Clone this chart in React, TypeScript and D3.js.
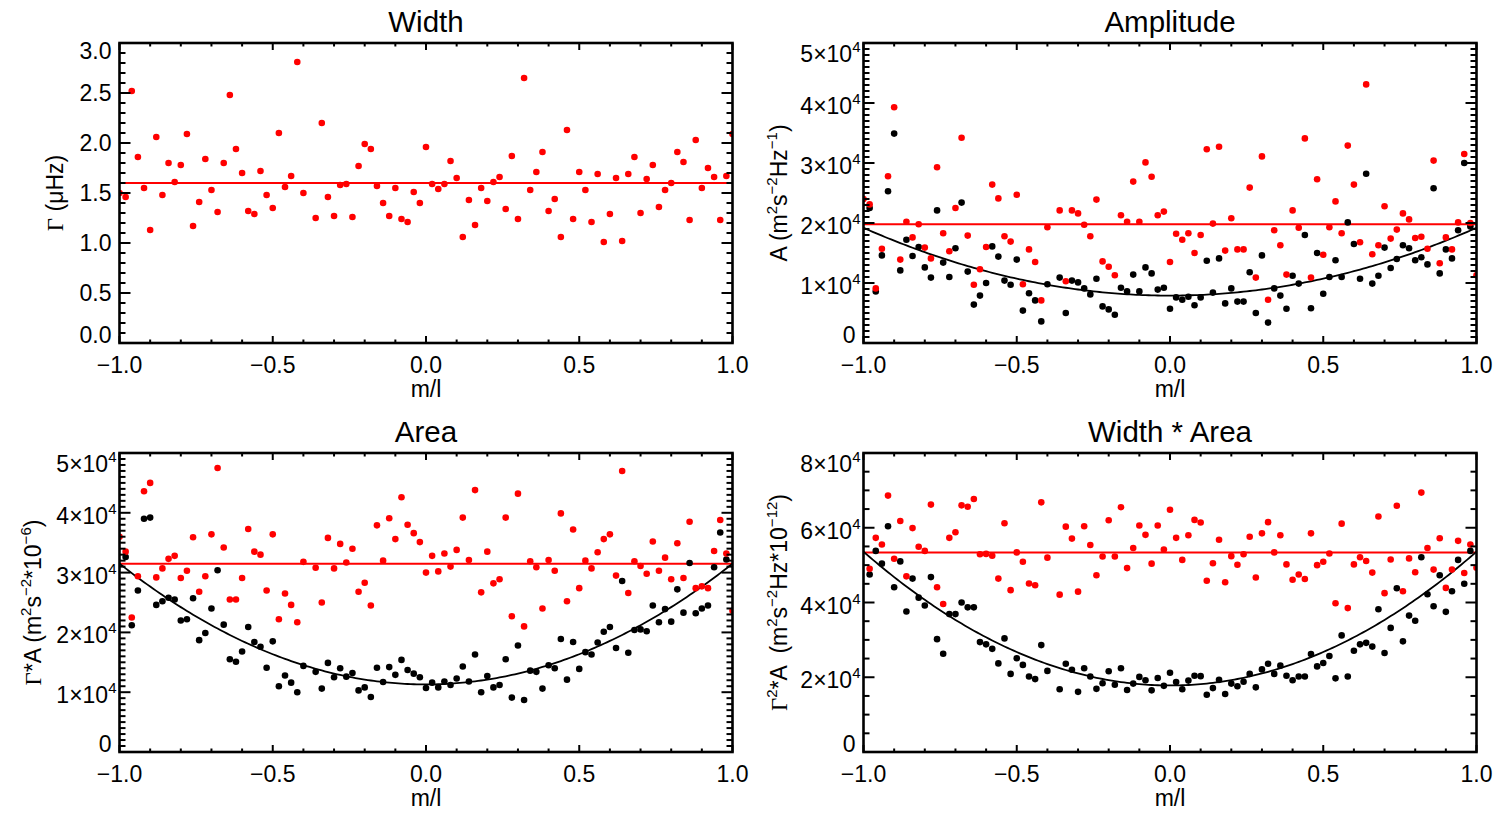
import React from 'react';
import * as d3 from 'd3';

// ---------- data ----------
const L_DEGREE = 50;
const M_VALUES = d3.range(-L_DEGREE, L_DEGREE + 1);
const ML = M_VALUES.map((m) => m / L_DEGREE);

const X_TICKS = [-1.0, -0.5, 0.0, 0.5, 1.0];
const X_TICK_LABELS = ['\u22121.0', '\u22120.5', '0.0', '0.5', '1.0'];

// Width (µHz)
const WIDTH_RED = [
  1.50, 1.46, 2.52, 1.86, 1.55, 1.13, 2.06, 1.48, 1.80, 1.61,
  1.78, 2.09, 1.17, 1.41, 1.84, 1.53, 1.31, 1.80, 2.48, 1.94,
  1.70, 1.32, 1.29, 1.72, 1.48, 1.35, 2.10, 1.56, 1.67, 2.81,
  1.50, null, 1.25, 2.20, 1.46, 1.27, 1.58, 1.59, 1.26, 1.77,
  1.99, 1.94, 1.57, 1.40, 1.27, 1.55, 1.24, 1.21, 1.51, 1.40,
  1.96, 1.59, 1.54, 1.59, 1.82, 1.65, 1.06, 1.43, 1.18, 1.55,
  1.42, 1.61, 1.66, 1.34, 1.87, 1.24, 2.65, 1.53, 1.71, 1.91,
  1.32, 1.44, 1.06, 2.13, 1.24, 1.71, 1.53, 1.21, 1.69, 1.01,
  1.29, 1.65, 1.02, 1.69, 1.86, 1.30, 1.64, 1.78, 1.36, 1.53,
  1.60, 1.91, 1.81, 1.23, 2.03, 1.55, 1.75, 1.66, 1.23, 1.67,
  2.09,
];
const WIDTH_MEAN = 1.60;

// Amplitude (units of 1e4)
const AMP_RED = [
  2.40, 2.31, 0.91, 1.57, 2.78, 3.93, 1.39, 2.02, 1.76, 1.98,
  1.59, 1.41, 2.93, 1.83, 1.53, 2.25, 3.42, 1.79, 0.97, 1.23,
  1.60, 2.64, 2.41, 1.78, 1.69, 2.47, 0.98, 1.56, 1.35, 0.71,
  1.93, null, 2.21, 1.03, 2.21, 2.16, 1.97, 1.78, 2.39, 1.36,
  1.27, 1.13, 2.13, 2.02, 2.69, 2.02, 3.01, 2.77, 2.13, 2.19,
  1.35, 1.82, 1.72, 1.83, 1.50, 1.80, 3.23, 1.99, 3.27, 1.54,
  2.08, 1.56, 1.56, 2.59, 1.09, 3.11, 0.72, 1.88, 1.63, 1.14,
  2.21, 1.92, 3.41, 1.09, 2.73, 1.47, 1.93, 2.36, 1.83, 3.29,
  2.64, 1.68, 4.31, 1.48, 1.63, 2.28, 1.74, 1.89, 2.16, 2.06,
  1.75, 1.77, 1.57, 3.04, 1.33, 1.76, 1.56, 2.01, 3.15, 2.00,
  1.13,
];
const AMP_BLACK = [
  null, 2.25, 0.86, 1.46, 2.53, 3.49, 1.21, 1.72, 1.45, 1.60,
  1.26, 1.09, 2.21, 1.34, 1.10, 1.58, 2.34, 1.19, 0.64, 0.79,
  1.00, 1.61, 1.44, 1.04, 0.97, 1.39, 0.54, 0.83, 0.71, 0.36,
  0.98, null, 1.09, 0.50, 1.04, 1.01, 0.91, 0.81, 1.07, 0.61,
  0.56, 0.47, 0.92, 0.86, 1.14, 0.86, 1.26, 1.16, 0.89, 0.92,
  0.57, 0.76, 0.72, 0.77, 0.63, 0.76, 1.37, 0.84, 1.41, 0.66,
  0.91, 0.69, 0.69, 1.18, 0.50, 1.46, 0.34, 0.91, 0.79, 0.57,
  1.12, 0.99, 1.80, 0.58, 1.50, 0.82, 1.10, 1.38, 1.10, 2.01,
  1.65, 1.07, 2.82, 0.99, 1.12, 1.59, 1.25, 1.40, 1.63, 1.58,
  1.38, 1.43, 1.31, 2.58, 1.16, 1.56, 1.41, 1.88, 3.00, 1.94,
  null,
];
const AMP_MEAN = 1.98;
const AMP_FIT = [0.79, 1.13]; // a + b x^2

// Area (units of 1e4)
const AREA_RED = [
  3.60, 3.35, 2.25, 2.94, 4.36, 4.50, 2.92, 3.07, 3.23, 3.28,
  2.91, 3.03, 3.59, 2.68, 2.94, 3.64, 4.75, 3.42, 2.55, 2.55,
  2.91, 3.73, 3.35, 3.30, 2.70, 3.64, 2.22, 2.65, 2.46, 2.17,
  3.18, null, 3.08, 2.50, 3.58, 3.07, 3.48, 3.17, 3.40, 2.68,
  2.83, 2.45, 3.79, 3.20, 3.91, 3.56, 4.26, 3.80, 3.66, 3.51,
  3.00, 3.28, 3.02, 3.32, 3.10, 3.38, 3.92, 3.21, 4.38, 2.67,
  3.35, 2.82, 2.89, 3.92, 2.27, 4.32, 2.10, 3.19, 3.09, 2.40,
  3.21, 3.03, 3.99, 2.52, 3.72, 2.74, 3.20, 3.07, 3.34, 3.56,
  3.64, 2.95, 4.70, 2.66, 3.19, 3.11, 2.98, 3.52, 3.03, 3.25,
  2.89, 3.49, 2.91, 3.85, 2.74, 2.77, 2.74, 3.36, 3.88, 3.32,
  2.36,
];
const AREA_BLACK = [
  null, 3.26, 2.12, 2.70, 3.90, 3.92, 2.46, 2.52, 2.58, 2.55,
  2.20, 2.22, 2.57, 1.87, 1.99, 2.40, 3.04, 2.13, 1.55, 1.51,
  1.68, 2.09, 1.84, 1.76, 1.41, 1.85, 1.10, 1.28, 1.16, 1.00,
  1.44, null, 1.34, 1.06, 1.49, 1.25, 1.40, 1.26, 1.32, 1.03,
  1.08, 0.92, 1.41, 1.17, 1.42, 1.29, 1.54, 1.37, 1.31, 1.25,
  1.07, 1.16, 1.08, 1.18, 1.12, 1.23, 1.43, 1.18, 1.63, 1.00,
  1.27, 1.08, 1.12, 1.55, 0.91, 1.78, 0.87, 1.36, 1.34, 1.06,
  1.45, 1.40, 1.89, 1.21, 1.84, 1.39, 1.67, 1.63, 1.83, 2.01,
  2.09, 1.74, 2.86, 1.66, 2.04, 2.05, 2.02, 2.45, 2.17, 2.39,
  2.18, 2.72, 2.33, 3.16, 2.32, 2.40, 2.45, 3.09, 3.67, 3.22,
  null,
];
const AREA_MEAN = 3.15;
const AREA_FIT = [1.13, 2.02];

// Width * Area (units of 1e4)
const WA_RED = [
  null, 4.90, 5.73, 5.55, 6.86, 5.17, 6.18, 4.70, 5.99, 5.49,
  5.38, 6.62, 4.41, 3.96, 5.73, 5.88, 6.60, 6.56, 6.77, 5.29,
  5.30, 5.25, 4.64, 6.12, 4.33, 5.34, 5.09, 4.51, 4.46, 6.68,
  5.20, null, 4.21, 6.03, 5.71, 4.29, 6.04, 5.54, 4.73, 5.23,
  6.20, 5.23, 6.55, 4.92, 5.46, 6.06, 5.81, 5.04, 6.06, 5.42,
  6.48, 5.73, 5.14, 5.80, 6.21, 6.14, 4.58, 5.05, 5.68, 4.54,
  5.24, 5.01, 5.29, 5.76, 4.67, 5.85, 6.15, 5.34, 5.80, 5.02,
  4.61, 4.75, 4.63, 5.85, 5.00, 5.09, 5.31, 3.98, 6.11, 3.85,
  5.02, 5.21, 5.11, 4.80, 6.30, 4.25, 5.15, 6.59, 4.30, 5.18,
  4.81, 6.94, 5.46, 4.88, 5.72, 4.39, 4.88, 5.65, 4.79, 5.55,
  4.93,
];
const WA_BLACK = [
  null, 4.75, 5.38, 5.04, 6.04, 4.41, 5.10, 3.76, 4.64, 4.13,
  3.92, 4.68, 3.02, 2.63, 3.69, 3.69, 4.00, 3.87, 3.87, 2.94,
  2.88, 2.76, 2.37, 3.04, 2.09, 2.51, 2.33, 2.02, 1.95, 2.86,
  2.17, null, 1.68, 2.36, 2.20, 1.61, 2.24, 2.02, 1.69, 1.84,
  2.16, 1.80, 2.24, 1.66, 1.83, 2.01, 1.92, 1.65, 1.98, 1.77,
  2.12, 1.87, 1.68, 1.91, 2.04, 2.03, 1.53, 1.71, 1.93, 1.55,
  1.83, 1.76, 1.88, 2.09, 1.73, 2.21, 2.36, 2.09, 2.31, 2.04,
  1.92, 2.02, 2.02, 2.62, 2.29, 2.38, 2.57, 1.97, 3.12, 2.02,
  2.71, 2.88, 2.92, 2.82, 3.82, 2.65, 3.32, 4.38, 2.96, 3.65,
  3.51, 5.21, 4.22, 3.90, 4.73, 3.75, 4.30, 5.14, 4.50, 5.38,
  null,
];
const WA_MEAN = 5.34;
const WA_FIT = [1.78, 3.58];

// ---------- styling ----------
const FONT = '"Liberation Sans", Arial, Helvetica, sans-serif';
const SERIF = '"Liberation Serif", "Times New Roman", serif';
const RED = '#ff0000';
const BLACK = '#000000';
const TICK_FS = 23;
const TITLE_FS = 29.5;
const SUP_FS = 15;
const SUP_RISE = 10;

type Seg = { t: string; sup?: boolean; serif?: boolean };

function Rich({ segs }: { segs: Seg[] }) {
  let cur = 0;
  return (
    <>
      {segs.map((s, k) => {
        const target = s.sup ? -SUP_RISE : 0;
        const dy = target - cur;
        cur = target;
        return (
          <tspan
            key={k}
            dy={dy !== 0 ? dy : undefined}
            fontSize={s.sup ? SUP_FS : undefined}
            fontFamily={s.serif ? SERIF : undefined}
          >
            {s.t}
          </tspan>
        );
      })}
    </>
  );
}

type Cfg = {
  key: string;
  title: string;
  yLabel: Seg[];
  yMax: number;
  major: number;
  minor: number;
  exp: boolean;
  red: (number | null)[];
  black?: (number | null)[];
  mean: number;
  fit?: number[];
  yLabelOffset: number;
};

const PANELS: Cfg[] = [
  {
    key: 'width', title: 'Width',
    yLabel: [{ t: '\u0393', serif: true }, { t: ' (\u03bcHz)' }],
    yMax: 3, major: 0.5, minor: 0.1, exp: false,
    red: WIDTH_RED, mean: WIDTH_MEAN, yLabelOffset: 57,
  },
  {
    key: 'amp', title: 'Amplitude',
    yLabel: [{ t: 'A (m' }, { t: '2', sup: true }, { t: 's' }, { t: '\u22122', sup: true }, { t: 'Hz' }, { t: '\u22121', sup: true }, { t: ')' }],
    yMax: 5, major: 1, minor: 0.1, exp: true,
    red: AMP_RED, black: AMP_BLACK, mean: AMP_MEAN, fit: AMP_FIT, yLabelOffset: 77,
  },
  {
    key: 'area', title: 'Area',
    yLabel: [{ t: '\u0393', serif: true }, { t: '*A (m' }, { t: '2', sup: true }, { t: 's' }, { t: '\u22122', sup: true }, { t: '*10' }, { t: '\u22126', sup: true }, { t: ')' }],
    yMax: 5, major: 1, minor: 0.1, exp: true,
    red: AREA_RED, black: AREA_BLACK, mean: AREA_MEAN, fit: AREA_FIT, yLabelOffset: 79,
  },
  {
    key: 'wa', title: 'Width * Area',
    yLabel: [{ t: '\u0393', serif: true }, { t: '2', sup: true }, { t: '*A  (m' }, { t: '2', sup: true }, { t: 's' }, { t: '\u22122', sup: true }, { t: 'Hz*10' }, { t: '\u221212', sup: true }, { t: ')' }],
    yMax: 8, major: 2, minor: 0.5, exp: true,
    red: WA_RED, black: WA_BLACK, mean: WA_MEAN, fit: WA_FIT, yLabelOffset: 77,
  },
];

const LAYOUT = [
  { x: 119.5, y: 43, w: 613, h: 300 },
  { x: 863.5, y: 43, w: 613, h: 300 },
  { x: 119.5, y: 453, w: 613, h: 299 },
  { x: 863.5, y: 453, w: 613, h: 299 },
];

function Panel({ cfg, box }: { cfg: Cfg; box: { x: number; y: number; w: number; h: number } }) {
  const { x: x0, y: y0, w, h } = box;
  const xs = d3.scaleLinear().domain([-1, 1]).range([x0, x0 + w]);
  const ys = d3.scaleLinear().domain([0, cfg.yMax]).range([y0 + h, y0]);
  const clipId = `clip-${cfg.key}`;

  const pts = (arr: (number | null)[]) =>
    ML.map((m, i) => ({ m, v: arr[i] })).filter((d) => d.v !== null && d.v !== undefined) as { m: number; v: number }[];

  const fitLine = cfg.fit
    ? d3.line<number>().x((m) => xs(m)).y((m) => ys(cfg.fit![0] + cfg.fit![1] * m * m))(d3.range(-100, 101).map((k) => k / 100))
    : null;

  // ticks
  const xMinorTicks = d3.range(-10, 11).map((k) => k / 10);
  const nY = Math.round(cfg.yMax / cfg.minor);
  const perMajor = Math.round(cfg.major / cfg.minor);
  const yTicks = d3.range(0, nY + 1).map((k) => ({ v: k * cfg.minor, major: k % perMajor === 0 }));
  const yMajorTicks = yTicks.filter((t) => t.major).map((t) => t.v);

  const XMAJ = 7, XMIN = 3.5, YMAJ = 11, YMIN = 6;

  return (
    <g>
      <defs>
        <clipPath id={clipId}>
          <rect x={x0} y={y0} width={w} height={h} />
        </clipPath>
      </defs>
      <g clipPath={`url(#${clipId})`}>
        <line x1={xs(-1)} x2={xs(1)} y1={ys(cfg.mean)} y2={ys(cfg.mean)} stroke={RED} strokeWidth={2} />
        {fitLine && <path d={fitLine} fill="none" stroke={BLACK} strokeWidth={1.8} />}
        {cfg.black && pts(cfg.black).map((d, i) => <circle key={`b${i}`} cx={xs(d.m)} cy={ys(d.v)} r={3.3} fill={BLACK} />)}
        {pts(cfg.red).map((d, i) => <circle key={`r${i}`} cx={xs(d.m)} cy={ys(d.v)} r={3.3} fill={RED} />)}
      </g>

      {/* x ticks (bottom and top, inward) */}
      {xMinorTicks.map((t, i) => {
        const isMaj = X_TICKS.some((m) => Math.abs(m - t) < 1e-9);
        const len = isMaj ? XMAJ : XMIN;
        const x = xs(t);
        return (
          <g key={`xt${i}`} stroke={BLACK} strokeWidth={2}>
            <line x1={x} x2={x} y1={y0 + h} y2={y0 + h - len} />
            <line x1={x} x2={x} y1={y0} y2={y0 + len} />
          </g>
        );
      })}
      {/* y ticks (left and right, inward) */}
      {yTicks.map((t, i) => {
        const len = t.major ? YMAJ : YMIN;
        const y = ys(t.v);
        return (
          <g key={`yt${i}`} stroke={BLACK} strokeWidth={2}>
            <line x1={x0} x2={x0 + len} y1={y} y2={y} />
            <line x1={x0 + w} x2={x0 + w - len} y1={y} y2={y} />
          </g>
        );
      })}
      <rect x={x0} y={y0} width={w} height={h} fill="none" stroke={BLACK} strokeWidth={2.6} />

      {/* x tick labels */}
      {X_TICKS.map((t, i) => (
        <text key={`xl${i}`} x={xs(t)} y={y0 + h + 30} textAnchor="middle" fontSize={TICK_FS} fontFamily={FONT} fill={BLACK}>
          {X_TICK_LABELS[i]}
        </text>
      ))}
      <text x={x0 + w / 2} y={y0 + h + 54} textAnchor="middle" fontSize={TICK_FS} fontFamily={FONT} fill={BLACK}>
        m/l
      </text>

      {/* y tick labels */}
      {yMajorTicks.map((v, i) => {
        const y = ys(v);
        const isExp = cfg.exp && v !== 0;
        const base = isExp
          ? Math.min(Math.max(y + 11, y0 + 19), y0 + h)
          : Math.min(Math.max(y + 8, y0 + 16), y0 + h);
        const segs: Seg[] = isExp
          ? [{ t: `${v}\u00d710` }, { t: '4', sup: true }]
          : [{ t: cfg.exp ? '0' : v.toFixed(1) }];
        return (
          <text key={`yl${i}`} x={x0 - (isExp ? 3 : 8)} y={base} textAnchor="end" fontSize={TICK_FS} fontFamily={FONT} fill={BLACK}>
            <Rich segs={segs} />
          </text>
        );
      })}

      {/* y axis label */}
      <text
        transform={`translate(${x0 - cfg.yLabelOffset},${y0 + h / 2}) rotate(-90)`}
        textAnchor="middle"
        fontSize={TICK_FS}
        fontFamily={FONT}
        fill={BLACK}
        style={{ whiteSpace: 'pre' }}
      >
        <Rich segs={cfg.yLabel} />
      </text>

      {/* title */}
      <text x={x0 + w / 2} y={y0 - 11} textAnchor="middle" fontSize={TITLE_FS} fontFamily={FONT} fill={BLACK}>
        {cfg.title}
      </text>
    </g>
  );
}

export default function App() {
  return (
    <svg
      width={1500}
      height={813}
      viewBox="0 0 1500 813"
      style={{ position: 'absolute', left: 0, top: 0, background: '#ffffff' }}
    >
      <rect x={0} y={0} width={1500} height={813} fill="#ffffff" />
      {PANELS.map((cfg, i) => (
        <Panel key={cfg.key} cfg={cfg} box={LAYOUT[i]} />
      ))}
    </svg>
  );
}
